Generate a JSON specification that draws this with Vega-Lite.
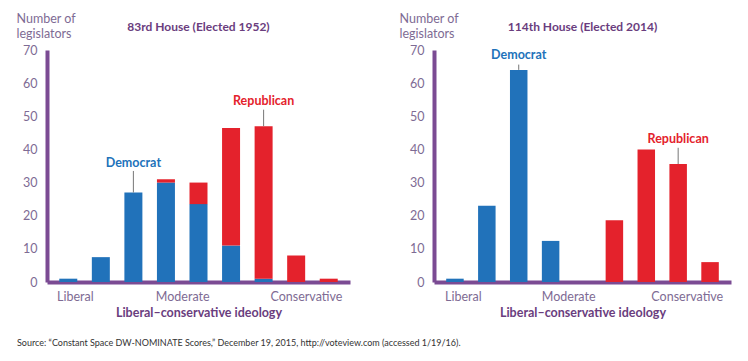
{
  "$schema": "https://vega.github.io/schema/vega-lite/v6.json",
  "background": "white",
  "padding": {"left": 16, "top": 12, "right": 5, "bottom": 5},
  "config": {
    "font": "Lato",
    "view": {"stroke": null},
    "concat": {"spacing": 49},
    "axis": {
      "grid": false, "ticks": false, "labelOverlap": false,
      "domainColor": "#7b4b93", "domainWidth": 4,
      "labelColor": "#7e6b94", "labelFontSize": 12.5, "labelFont": "Lato",
      "titleColor": "#6a3d7e", "titleFont": "Lato"
    },
    "title": {"color": "#6a3d7e", "fontSize": 12, "fontWeight": "bold", "font": "Lato"}
  },
  "title": {
    "text": "Source: “Constant Space DW-NOMINATE Scores,” December 19, 2015, http://voteview.com (accessed 1/19/16).",
    "orient": "bottom", "anchor": "start", "frame": "bounds",
    "fontSize": 9, "fontWeight": "normal", "color": "#333333", "offset": 20, "dx": 1
  },
  "datasets": {
    "h83": [
      {"bin": 1, "party": "Democrat", "count": 1},
      {"bin": 2, "party": "Democrat", "count": 7.5},
      {"bin": 3, "party": "Democrat", "count": 27},
      {"bin": 4, "party": "Democrat", "count": 30},
      {"bin": 4, "party": "Republican", "count": 1},
      {"bin": 5, "party": "Democrat", "count": 23.5},
      {"bin": 5, "party": "Republican", "count": 6.5},
      {"bin": 6, "party": "Democrat", "count": 11},
      {"bin": 6, "party": "Republican", "count": 35.5},
      {"bin": 7, "party": "Democrat", "count": 1},
      {"bin": 7, "party": "Republican", "count": 46},
      {"bin": 8, "party": "Republican", "count": 8},
      {"bin": 9, "party": "Republican", "count": 1}
    ],
    "h114": [
      {"bin": 1, "party": "Democrat", "count": 1},
      {"bin": 2, "party": "Democrat", "count": 23},
      {"bin": 3, "party": "Democrat", "count": 64},
      {"bin": 4, "party": "Democrat", "count": 12.4},
      {"bin": 6, "party": "Republican", "count": 18.6},
      {"bin": 7, "party": "Republican", "count": 40},
      {"bin": 8, "party": "Republican", "count": 35.6},
      {"bin": 9, "party": "Republican", "count": 6}
    ],
    "a83": [
      {"bin": 3, "party": "Democrat", "labelY": 36, "lineTop": 33.5, "lineBottom": 27},
      {"bin": 7, "party": "Republican", "labelY": 54.6, "lineTop": 52, "lineBottom": 47}
    ],
    "a114": [
      {"bin": 3, "party": "Democrat", "labelY": 68.4, "lineTop": 65.6, "lineBottom": 64},
      {"bin": 8, "party": "Republican", "labelY": 43.1, "lineTop": 40.5, "lineBottom": 35.6}
    ]
  },
  "hconcat": [
    {
      "width": 303, "height": 232,
      "title": {"text": "83rd House (Elected 1952)", "offset": -22},
      "layer": [
        {
          "data": {"name": "h83"},
          "mark": {"type": "bar", "size": 18},
          "encoding": {
            "x": {"field": "bin", "type": "quantitative",
              "scale": {"domain": [0.5, 9.5], "nice": false, "zero": false},
              "axis": {"values": [1.2, 4.5, 8.3],
                "labelExpr": "datum.value < 2 ? 'Liberal' : datum.value < 6 ? 'Moderate' : 'Conservative'",
                "title": "Liberal–conservative ideology", "titleFontSize": 12.5, "titleFontWeight": "bold",
                "labelPadding": 8, "titlePadding": 4}},
            "y": {"field": "count", "type": "quantitative", "stack": "zero",
              "scale": {"domain": [0, 70], "nice": false},
              "axis": {"values": [0, 10, 20, 30, 40, 50, 60, 70], "tickCount": 8, "labelOverlap": false, "labelPadding": 10,
                "title": ["Number of", "legislators"], "titleAngle": 0, "titleAlign": "left",
                "titleBaseline": "bottom", "titleX": -31, "titleY": -25,
                "titleFontSize": 12.5, "titleFontWeight": "normal", "titleColor": "#7e6b94", "titleLineHeight": 15}},
            "color": {"field": "party", "type": "nominal",
              "scale": {"domain": ["Democrat", "Republican"], "range": ["#2172ba", "#e4222c"]},
              "legend": null},
            "order": {"field": "party", "sort": "ascending"}
          }
        },
        {
          "data": {"name": "a83"},
          "mark": {"type": "rule", "color": "#777777", "strokeWidth": 1},
          "encoding": {
            "x": {"field": "bin", "type": "quantitative"},
            "y": {"field": "lineTop", "type": "quantitative"},
            "y2": {"field": "lineBottom"}
          }
        },
        {
          "data": {"name": "a83"},
          "mark": {"type": "text", "fontWeight": "bold", "fontSize": 12.5, "baseline": "middle"},
          "encoding": {
            "x": {"field": "bin", "type": "quantitative"},
            "y": {"field": "labelY", "type": "quantitative"},
            "text": {"field": "party"},
            "color": {"field": "party", "type": "nominal", "legend": null}
          }
        }
      ]
    },
    {
      "width": 297, "height": 232,
      "title": {"text": "114th House (Elected 2014)", "offset": -22},
      "layer": [
        {
          "data": {"name": "h114"},
          "mark": {"type": "bar", "size": 17.5},
          "encoding": {
            "x": {"field": "bin", "type": "quantitative",
              "scale": {"domain": [0.5, 9.5], "nice": false, "zero": false},
              "axis": {"values": [1.25, 4.55, 8.27],
                "labelExpr": "datum.value < 2 ? 'Liberal' : datum.value < 6 ? 'Moderate' : 'Conservative'",
                "title": "Liberal–conservative ideology", "titleFontSize": 12.5, "titleFontWeight": "bold",
                "labelPadding": 8, "titlePadding": 4}},
            "y": {"field": "count", "type": "quantitative", "stack": "zero",
              "scale": {"domain": [0, 70], "nice": false},
              "axis": {"values": [0, 10, 20, 30, 40, 50, 60, 70], "tickCount": 8, "labelOverlap": false, "labelPadding": 10,
                "title": ["Number of", "legislators"], "titleAngle": 0, "titleAlign": "left",
                "titleBaseline": "bottom", "titleX": -35, "titleY": -25,
                "titleFontSize": 12.5, "titleFontWeight": "normal", "titleColor": "#7e6b94", "titleLineHeight": 15}},
            "color": {"field": "party", "type": "nominal",
              "scale": {"domain": ["Democrat", "Republican"], "range": ["#2172ba", "#e4222c"]},
              "legend": null},
            "order": {"field": "party", "sort": "ascending"}
          }
        },
        {
          "data": {"name": "a114"},
          "mark": {"type": "rule", "color": "#777777", "strokeWidth": 1},
          "encoding": {
            "x": {"field": "bin", "type": "quantitative"},
            "y": {"field": "lineTop", "type": "quantitative"},
            "y2": {"field": "lineBottom"}
          }
        },
        {
          "data": {"name": "a114"},
          "mark": {"type": "text", "fontWeight": "bold", "fontSize": 12.5, "baseline": "middle"},
          "encoding": {
            "x": {"field": "bin", "type": "quantitative"},
            "y": {"field": "labelY", "type": "quantitative"},
            "text": {"field": "party"},
            "color": {"field": "party", "type": "nominal", "legend": null}
          }
        }
      ]
    }
  ]
}
